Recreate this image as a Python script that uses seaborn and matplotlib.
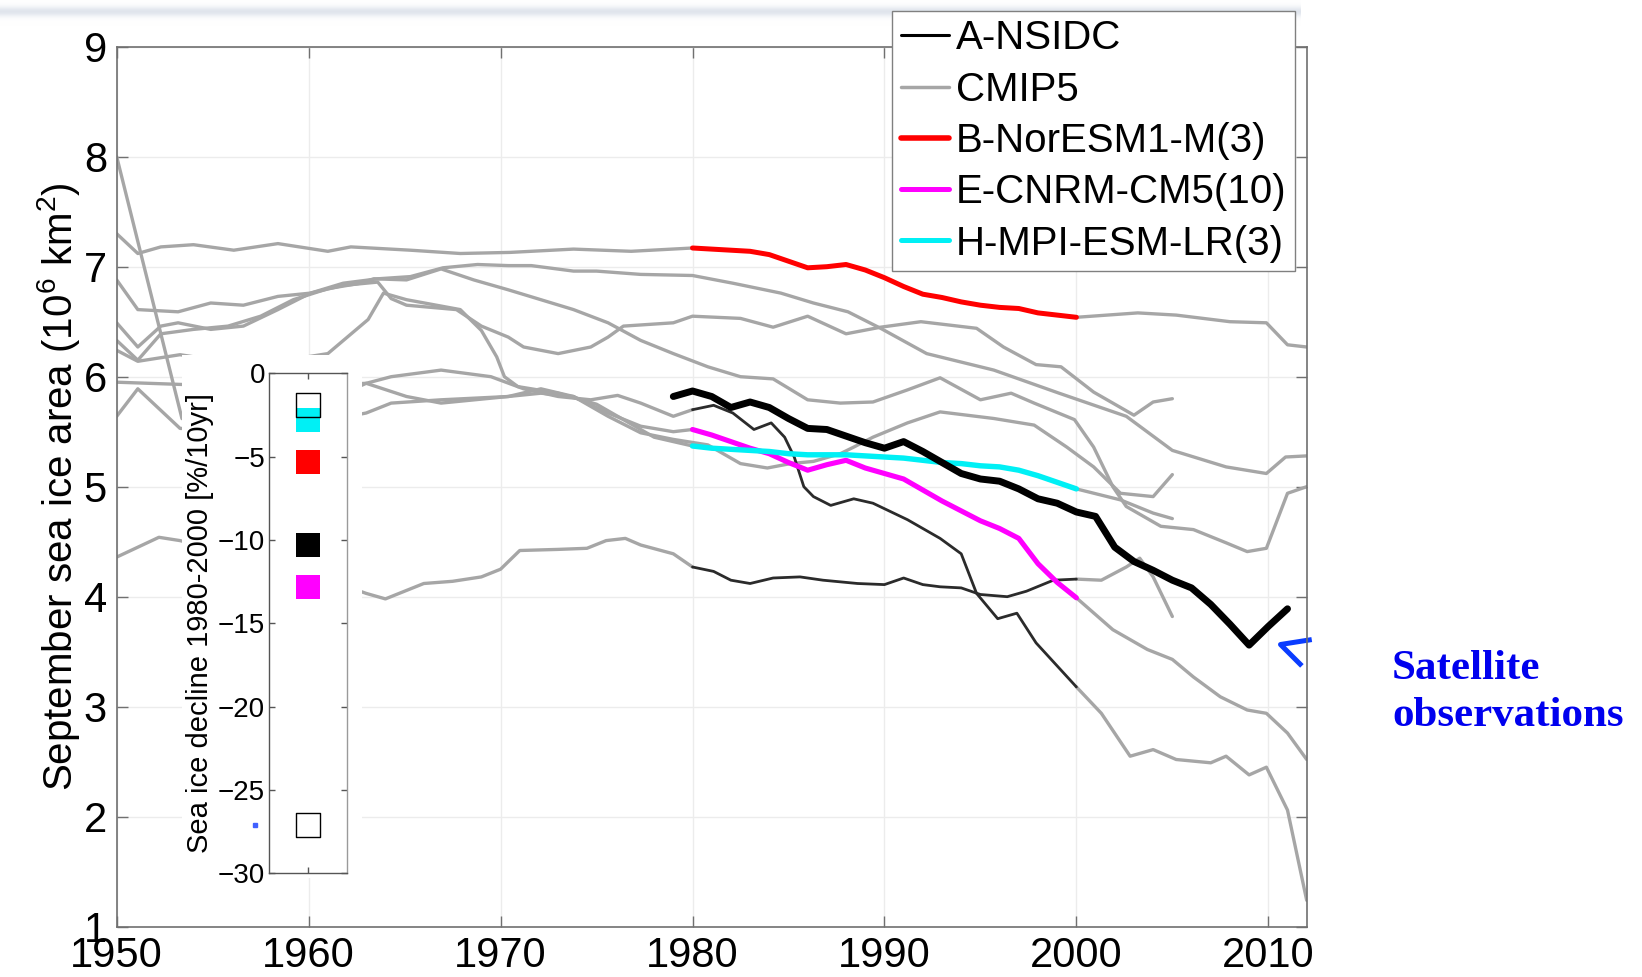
import numpy as np
import matplotlib
matplotlib.use("Agg")
import matplotlib.pyplot as plt
from matplotlib.lines import Line2D
from matplotlib.patches import Rectangle
from matplotlib.path import Path
import pandas as pd
import seaborn as sns

# ---------------- data (10^6 km^2) ----------------
# B-NorESM1-M member (coloured 1980-2000)
noresm_years = [1950, 1951.1, 1952.3, 1954, 1956.1, 1958.4, 1961, 1962.2, 1965.3, 1967.9,
                1970.5, 1973.8, 1976.8] + list(range(1980, 2001)) + [2003.2, 2005.2, 2008, 2009.9, 2011, 2012]
noresm_vals = [7.30, 7.12, 7.18, 7.20, 7.15, 7.21, 7.14, 7.18, 7.15, 7.12,
               7.13, 7.16, 7.14,
               7.17, 7.16, 7.15, 7.14, 7.11, 7.05, 6.99, 7.00, 7.02, 6.97, 6.90,
               6.82, 6.75, 6.72, 6.68, 6.65, 6.63, 6.62, 6.58, 6.56, 6.54,
               6.58, 6.56, 6.50, 6.49, 6.29, 6.27]

# H-MPI-ESM-LR member
mpi_years = [1950, 1951.1, 1953.3, 1957, 1961, 1963.1, 1963.9, 1965.1, 1967.9, 1969,
             1969.8, 1970.2, 1970.9, 1973, 1975, 1976.5, 1978] + list(range(1980, 2001)) + [2002.3, 2004, 2005]
mpi_vals = [6.24, 6.14, 6.20, 6.10, 6.21, 6.52, 6.76, 6.70, 6.61, 6.42,
            6.18, 6.00, 5.91, 5.85, 5.75, 5.60, 5.45,
            5.37, 5.35, 5.34, 5.33, 5.32, 5.30, 5.29, 5.29, 5.29, 5.28, 5.27,
            5.26, 5.24, 5.22, 5.21, 5.19, 5.18, 5.15, 5.10, 5.04, 4.98,
            4.88, 4.76, 4.71]

# E-CNRM-CM5 member
cnrm_years = [1950, 1953.4, 1956, 1963, 1965.1, 1966.9, 1970.4, 1972.1, 1973.8, 1975.6,
              1977.3, 1979] + list(range(1980, 2001)) + [2001.9, 2003.7, 2005, 2006.1, 2007.5, 2008.9, 2009.9, 2011, 2012]
cnrm_vals = [8.00, 5.62, 5.40, 5.94, 5.82, 5.76, 5.82, 5.89, 5.82, 5.67,
             5.55, 5.50,
             5.52, 5.47, 5.41, 5.35, 5.30, 5.22, 5.15, 5.20, 5.24, 5.17, 5.12,
             5.07, 4.97, 4.87, 4.78, 4.69, 4.62, 4.53, 4.30, 4.13, 3.99,
             3.70, 3.52, 3.43, 3.27, 3.09, 2.97, 2.94, 2.76, 2.52]

# two other members drawn thin and dark over 1980-2000
thin1_years = [1950, 1953.3, 1958, 1963, 1964.3, 1966.9, 1969.5, 1971.2, 1973, 1974.7,
               1976.1, 1977.3, 1979, 1980, 1981.1, 1982.1, 1983.2, 1984.1, 1984.8, 1985.3,
               1985.8, 1986.3, 1987.2, 1988.4, 1989.4, 1991.2, 1992.9, 1994, 1994.8, 1995.9,
               1996.9, 1997.9, 2000, 2001.3, 2002.8, 2004, 2005.2, 2007, 2007.8, 2009,
               2009.9, 2011, 2012]
thin1_vals = [5.95, 5.93, 5.90, 5.94, 6.00, 6.06, 6.00, 5.89, 5.82, 5.79,
              5.83, 5.76, 5.64, 5.70, 5.74, 5.67, 5.52, 5.58, 5.45, 5.27,
              5.00, 4.91, 4.83, 4.89, 4.85, 4.70, 4.53, 4.39, 4.03, 3.80,
              3.85, 3.58, 3.18, 2.94, 2.55, 2.61, 2.52, 2.49, 2.55, 2.38,
              2.45, 2.06, 1.24]

thin2_years = [1950, 1952.2, 1953.3, 1958, 1962.2, 1963, 1964, 1965, 1966, 1967.5,
               1969, 1970, 1971, 1973, 1974.5, 1975.5, 1976.5, 1977.3, 1979, 1980,
               1981.1, 1982, 1983, 1984.2, 1985.6, 1986.8, 1988.6, 1990, 1991, 1992,
               1992.9, 1994, 1995, 1996.4, 1997.4, 1998.8, 2000, 2001.3, 2002.6, 2003.3,
               2004, 2005]
thin2_vals = [4.36, 4.54, 4.51, 4.30, 4.08, 4.03, 3.98, 4.05, 4.12, 4.14,
              4.18, 4.25, 4.42, 4.43, 4.44, 4.51, 4.53, 4.47, 4.39, 4.27,
              4.23, 4.15, 4.12, 4.17, 4.18, 4.15, 4.12, 4.11, 4.17, 4.11,
              4.09, 4.08, 4.02, 4.00, 4.05, 4.15, 4.16, 4.15, 4.27, 4.35,
              4.18, 3.82]

# plain grey CMIP5 members
cmipA_years = [1950, 1951.1, 1953.2, 1954.9, 1956.6, 1958.4, 1960.1, 1961.8, 1963.6, 1965.3,
               1967, 1968.8, 1970.4, 1971.6, 1973.8, 1975, 1977.3, 1980, 1982.1, 1984.6,
               1986.3, 1988.1, 1989.8, 1992.2, 1995.7, 1999.1, 2002.6, 2005, 2007.8, 2009.9,
               2010.9, 2012]
cmipA_vals = [6.88, 6.61, 6.59, 6.67, 6.65, 6.73, 6.76, 6.85, 6.89, 6.91,
              6.99, 7.02, 7.01, 7.01, 6.96, 6.96, 6.93, 6.92, 6.85, 6.76,
              6.67, 6.59, 6.44, 6.21, 6.06, 5.85, 5.64, 5.33, 5.18, 5.12,
              5.27, 5.28]

cmipB_years = [1950, 1951.1, 1952.3, 1953.2, 1954.9, 1956.6, 1958.4, 1960.1, 1961.8, 1963.6,
               1964.3, 1965.1, 1967.7, 1969, 1970.4, 1971.2, 1973, 1974.7, 1975.6, 1976.4,
               1979, 1980, 1982.5, 1984.2, 1986, 1988, 1989.8, 1991.9, 1994.8, 1996.2,
               1997.9, 1999.2, 2000.9, 2003, 2004, 2005]
cmipB_vals = [6.49, 6.27, 6.46, 6.49, 6.43, 6.46, 6.61, 6.76, 6.83, 6.86,
              6.71, 6.65, 6.61, 6.46, 6.36, 6.27, 6.21, 6.27, 6.36, 6.46,
              6.49, 6.55, 6.53, 6.45, 6.55, 6.39, 6.45, 6.50, 6.44, 6.27,
              6.11, 6.09, 5.86, 5.65, 5.77, 5.80]

cmipC_years = [1950, 1951.1, 1952.3, 1954, 1955.8, 1957.5, 1959.2, 1961, 1962.7, 1963.4,
               1965.1, 1966.9, 1968.6, 1970.4, 1972.1, 1973.8, 1975.6, 1977.3, 1979, 1980.8,
               1982.5, 1984.2, 1986, 1987.7, 1989.4, 1991.2, 1992.9, 1995, 1996.6, 1997.8,
               1999.9, 2000.9, 2001.9, 2002.6, 2004.4, 2006.1, 2007.8, 2008.9, 2009.9, 2011,
               2012]
cmipC_vals = [6.33, 6.15, 6.39, 6.43, 6.46, 6.55, 6.70, 6.80, 6.85, 6.89,
              6.88, 6.98, 6.88, 6.79, 6.70, 6.61, 6.49, 6.33, 6.21, 6.09,
              6.00, 5.98, 5.79, 5.76, 5.77, 5.88, 5.99, 5.79, 5.85, 5.76,
              5.61, 5.36, 5.00, 4.82, 4.64, 4.61, 4.49, 4.41, 4.44, 4.94,
              5.00]

cmipD_years = [1950, 1951.1, 1953.3, 1958, 1963, 1964.3, 1966.9, 1970.4, 1972.1, 1973.8,
               1975.6, 1977.3, 1979, 1980.8, 1982.5, 1983.9, 1985.1, 1986.3, 1987.7, 1988.4,
               1989.4, 1991.2, 1992.9, 1995.7, 1997.8, 1999.5, 2000.9, 2002.3, 2004, 2005]
cmipD_vals = [5.64, 5.89, 5.53, 5.50, 5.67, 5.76, 5.79, 5.82, 5.85, 5.82,
              5.64, 5.49, 5.43, 5.38, 5.21, 5.17, 5.21, 5.23, 5.30, 5.36,
              5.45, 5.58, 5.68, 5.62, 5.56, 5.36, 5.18, 4.94, 4.91, 5.11]

# A-NSIDC satellite observations
nsidc_years = list(range(1979, 2012))
nsidc_vals = [5.82, 5.87, 5.82, 5.72, 5.77, 5.72, 5.62, 5.53, 5.52, 5.46,
              5.40, 5.35, 5.41, 5.32, 5.22, 5.12, 5.07, 5.05, 4.98, 4.89,
              4.85, 4.77, 4.73, 4.45, 4.32, 4.24, 4.15, 4.08, 3.93, 3.75,
              3.56, 3.73, 3.89]

# inset: sea ice decline 1980-2000 [%/10yr]
decline_models = ["H-MPI-ESM-LR", "B-NorESM1-M", "A-NSIDC", "E-CNRM-CM5"]
decline_vals = [-2.8, -5.3, -10.3, -12.8]
cmip_decline_range = [-1.9, -27.1]

legend_labels = ["A-NSIDC", "CMIP5", "B-NorESM1-M(3)", "E-CNRM-CM5(10)", "H-MPI-ESM-LR(3)"]

# ---------------- style ----------------
GRAY = "#a6a6a6"
DARK = "#2b2b2b"
W, H = 1642, 977


def px(x0, y0, x1, y1):
    # pixel box (origin top-left) -> figure fraction rectangle
    return [x0 / W, 1 - y1 / H, (x1 - x0) / W, (y1 - y0) / H]


sns.set_theme(style="white")
plt.rcParams["font.family"] = ["Liberation Sans", "DejaVu Sans"]
plt.rcParams["text.color"] = "black"
plt.rcParams["mathtext.fontset"] = "custom"
plt.rcParams["mathtext.rm"] = "Liberation Sans"
plt.rcParams["mathtext.it"] = "Liberation Sans:italic"

fig = plt.figure(figsize=(W / 100, H / 100), dpi=100)
fig.patch.set_facecolor("white")

# faint slide band at the very top
band = fig.add_axes(px(0, 0, 1300, 26), zorder=-1)
rows = np.arange(26)
w = 0.6 * np.exp(-((rows - 11) / 5.0) ** 2)
tint = np.array([0.80, 0.83, 0.88])
img = 1 - w[:, None, None] * (1 - tint)[None, None, :]
band.imshow(np.repeat(img, 2, axis=1), aspect="auto", interpolation="bilinear")
band.axis("off")

ax = fig.add_axes(px(116.7, 46.7, 1306.7, 926.7))

members = [
    (cmipA_years, cmipA_vals, None, None),
    (cmipB_years, cmipB_vals, None, None),
    (cmipC_years, cmipC_vals, None, None),
    (cmipD_years, cmipD_vals, None, None),
    (thin2_years, thin2_vals, DARK, 2.0),
    (thin1_years, thin1_vals, DARK, 2.0),
    (noresm_years, noresm_vals, "#ff0000", 3.6),
    (cnrm_years, cnrm_vals, "#ff00ff", 3.7),
    (mpi_years, mpi_vals, "#00f0f5", 3.9),
]

highlights = []
for yrs, vals, hl, lw in members:
    yrs = np.asarray(yrs, float)
    vals = np.asarray(vals, float)
    if hl is None:
        parts = [np.ones_like(yrs, dtype=bool)]
    else:
        parts = [yrs <= 1980, yrs >= 2000]
        mid = (yrs >= 1980) & (yrs <= 2000)
        highlights.append((yrs[mid], vals[mid], hl, lw))
    for m in parts:
        sns.lineplot(x=yrs[m], y=vals[m], ax=ax, color=GRAY, linewidth=2.4,
                     estimator=None, sort=False, legend=False)

for yrs, vals, hl, lw in highlights:
    sns.lineplot(x=yrs, y=vals, ax=ax, color=hl, linewidth=lw,
                 estimator=None, sort=False, legend=False)

sns.lineplot(x=nsidc_years, y=nsidc_vals, ax=ax, color="black", linewidth=5.0,
             estimator=None, sort=False, legend=False)

ax.set_xlim(1950, 2012)
ax.set_ylim(1, 9)
ax.set_xticks(np.arange(1950, 2011, 10))
ax.set_yticks(range(1, 10))
ax.grid(True, color="#ececec", linewidth=1.0)
ax.set_axisbelow(True)
for s in ax.spines.values():
    s.set_visible(True)
    s.set_color("#707070")
    s.set_linewidth(1.2)
ax.tick_params(axis="both", which="major", direction="in", length=8, width=1,
               color="#707070", labelcolor="black", labelsize=30,
               bottom=True, left=True, top=True, right=True, pad=7)
ax.set_xlabel("")
ax.set_ylabel("September sea ice area (10$^{6}$ km$^{2}$)", fontsize=29, color="black")
ax.yaxis.set_label_coords(-0.029, 0.5)

# blue chevron pointing at the observations
chevron = Path([(31.7, 5.0), (0.0, 0.0), (21.7, -21.7)],
               [Path.MOVETO, Path.LINETO, Path.LINETO])
ax.plot([2010.63], [3.57], marker=chevron, markersize=45, markerfacecolor="none",
        markeredgecolor="#0a3cff", markeredgewidth=3.6, linestyle="none", clip_on=False)
fig.text(1392 / W, 1 - 650 / H, "Satellite\nobservations", color="#0000ee",
         fontsize=31, fontweight="bold", family="Liberation Serif",
         ha="left", va="top", linespacing=1.3)

# legend
handles = [
    Line2D([0], [0], color="black", lw=2.2),
    Line2D([0], [0], color=GRAY, lw=2.5),
    Line2D([0], [0], color="#ff0000", lw=4.0),
    Line2D([0], [0], color="#ff00ff", lw=3.6),
    Line2D([0], [0], color="#00f0f5", lw=3.6),
]
leg = fig.legend(handles, legend_labels, loc="upper right",
                 bbox_to_anchor=(1295 / W, 1 - 10.5 / H), fontsize=29,
                 frameon=True, fancybox=False, framealpha=1, edgecolor="#808080",
                 handlelength=1.2, handletextpad=0.15, labelspacing=0.33,
                 borderpad=0.22, borderaxespad=0)
leg.get_frame().set_linewidth(1.0)
for t in leg.get_texts():
    t.set_color("black")

# white backing of the inset, then the inset itself
fig.add_artist(Rectangle((181.7 / W, 1 - 878 / H), (362 - 181.7) / W, (878 - 355) / H,
                         transform=fig.transFigure, facecolor="white",
                         edgecolor="none", zorder=2))
ax_in = fig.add_axes(px(269.3, 373.3, 346.7, 873.3), zorder=3)
ax_in.set_facecolor("white")

decline_df = pd.DataFrame({"x": 1.0, "decline": decline_vals, "model": decline_models})
palette = {"H-MPI-ESM-LR": "#00f0f5", "B-NorESM1-M": "#ff0000",
           "A-NSIDC": "black", "E-CNRM-CM5": "#ff00ff"}
sns.scatterplot(data=decline_df, x="x", y="decline", hue="model", palette=palette,
                marker="s", s=300, linewidth=0, legend=False, ax=ax_in)
ax_in.scatter([1.0, 1.0], cmip_decline_range, marker="s", s=300,
              facecolors="none", edgecolors="black", linewidths=1.0, zorder=4)
ax_in.plot([-0.38], [cmip_decline_range[1]], "s", ms=2.5, color="#4060ff", clip_on=False)

ax_in.set_xlim(0, 2)
ax_in.set_ylim(-30, 0)
ax_in.set_yticks(range(-30, 1, 5))
ax_in.set_xticks([1])
ax_in.set_xticklabels([])
ax_in.set_xlabel("")
for side, s in ax_in.spines.items():
    s.set_visible(True)
    s.set_color("#9a9a9a" if side == "right" else "#555555")
    s.set_linewidth(1.0)
ax_in.tick_params(axis="y", direction="in", length=4, width=1, color="#555555",
                  left=True, right=True, labelsize=20, labelcolor="black", pad=3)
ax_in.tick_params(axis="x", direction="in", length=4, width=1, color="#555555",
                  top=True, bottom=True, labelbottom=False)
ax_in.set_ylabel("Sea ice decline 1980-2000 [%/10yr]", fontsize=21, color="black")
ax_in.yaxis.set_label_coords(-0.72, 0.5)

fig.savefig("out.png", dpi=100)
